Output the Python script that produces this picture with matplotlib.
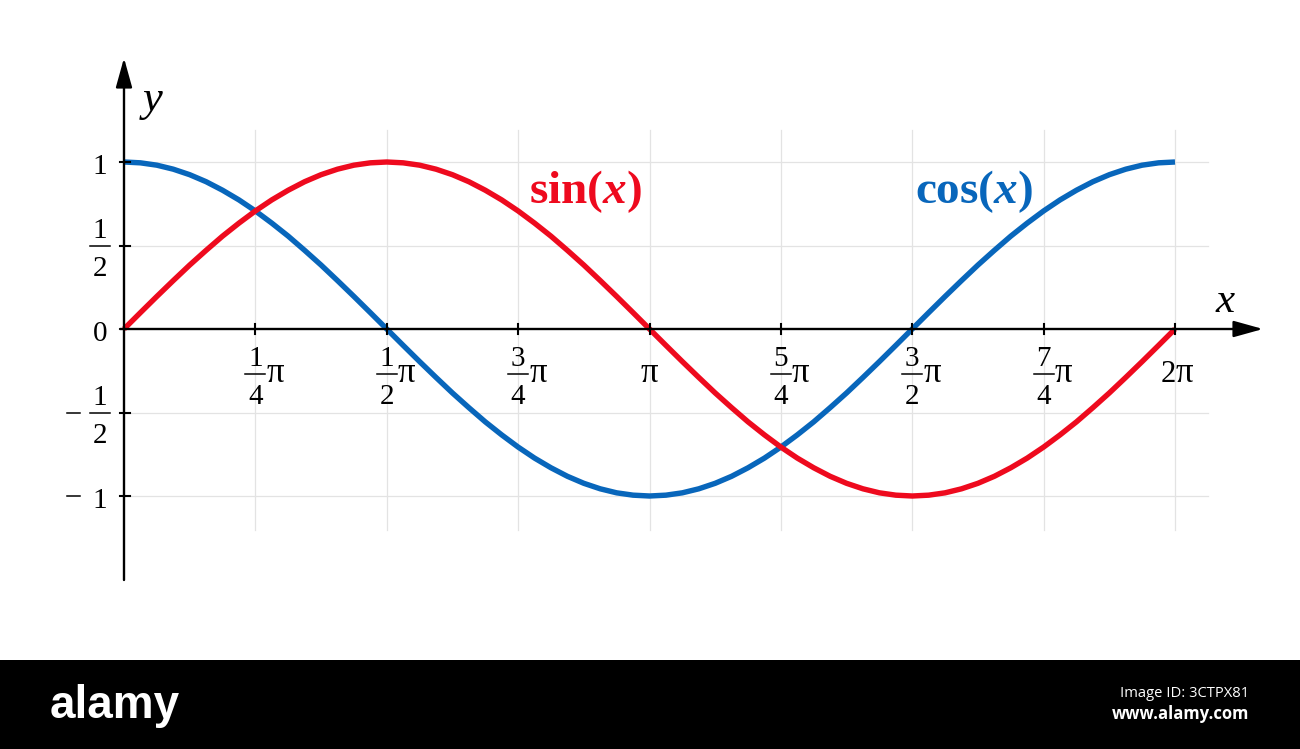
import numpy as np
import matplotlib
matplotlib.use('Agg')
import matplotlib.pyplot as plt
from matplotlib.patches import Rectangle

# ---------------- data ----------------
x_steps_of_pi_over_32 = list(range(65))          # x = k * pi / 32
sin_values = [0.000, 0.098, 0.195, 0.290, 0.383, 0.471, 0.556, 0.634, 0.707,
              0.773, 0.831, 0.882, 0.924, 0.957, 0.981, 0.995, 1.000,
              0.995, 0.981, 0.957, 0.924, 0.882, 0.831, 0.773, 0.707,
              0.634, 0.556, 0.471, 0.383, 0.290, 0.195, 0.098, 0.000,
              -0.098, -0.195, -0.290, -0.383, -0.471, -0.556, -0.634, -0.707,
              -0.773, -0.831, -0.882, -0.924, -0.957, -0.981, -0.995, -1.000,
              -0.995, -0.981, -0.957, -0.924, -0.882, -0.831, -0.773, -0.707,
              -0.634, -0.556, -0.471, -0.383, -0.290, -0.195, -0.098, 0.000]
cos_values = [1.000, 0.995, 0.981, 0.957, 0.924, 0.882, 0.831, 0.773, 0.707,
              0.634, 0.556, 0.471, 0.383, 0.290, 0.195, 0.098, 0.000,
              -0.098, -0.195, -0.290, -0.383, -0.471, -0.556, -0.634, -0.707,
              -0.773, -0.831, -0.882, -0.924, -0.957, -0.981, -0.995, -1.000,
              -0.995, -0.981, -0.957, -0.924, -0.882, -0.831, -0.773, -0.707,
              -0.634, -0.556, -0.471, -0.383, -0.290, -0.195, -0.098, 0.000,
              0.098, 0.195, 0.290, 0.383, 0.471, 0.556, 0.634, 0.707,
              0.773, 0.831, 0.882, 0.924, 0.957, 0.981, 0.995, 1.000]
x_tick_multiples = [0.25, 0.5, 0.75, 1.0, 1.25, 1.5, 1.75, 2.0]   # times pi
x_tick_num = ['1', '1', '3', '', '5', '3', '7', '']
x_tick_den = ['4', '2', '4', '', '4', '2', '4', '']
x_tick_coef = ['', '', '', '', '', '', '', '2']
x_tick_pi = 'π'
y_ticks = [1.0, 0.5, 0.0, -0.5, -1.0]
y_tick_negative = [False, False, False, True, True]
y_tick_num = ['1', '1', '0', '1', '1']
y_tick_den = ['', '2', '', '2', '']
series_names = [r'$\mathbf{sin(}\mathbfit{x}\mathbf{)}$', r'$\mathbf{cos(}\mathbfit{x}\mathbf{)}$']
series_label_x = [2.756, 5.084]
series_label_y = [0.755, 0.755]

RED = '#ee0a1e'
BLUE = '#0866bb'
GRID = '#e3e3e3'

plt.rcParams['font.family'] = ['Liberation Serif', 'DejaVu Serif']
plt.rcParams['mathtext.fontset'] = 'custom'
plt.rcParams['mathtext.rm'] = 'Liberation Serif'
plt.rcParams['mathtext.it'] = 'Liberation Serif:italic'
plt.rcParams['mathtext.bf'] = 'Liberation Serif:bold'
plt.rcParams['mathtext.bfit'] = 'Liberation Serif:italic:bold'

W, H = 1300, 749
fig = plt.figure(figsize=(W / 100, H / 100), dpi=100)
ax = fig.add_axes([0, 0, 1, 1])
X0_PX, X2PI_PX = 124, 1175
Y0_PX, UNIT_PX = 329, 167
SX = 2 * np.pi / (X2PI_PX - X0_PX)
ax.set_xlim(-X0_PX * SX, (W - X0_PX) * SX)
ax.set_ylim(-(H - Y0_PX) / UNIT_PX, Y0_PX / UNIT_PX)
ax.axis('off')


def dx(p):
    return p * SX


def dy(p):  # p pixels downward
    return -p / UNIT_PX


PI = np.pi

# grid
for m in x_tick_multiples:
    ax.plot([m * PI, m * PI], [1 + dy(-32), -1 + dy(34)], color=GRID, lw=0.9, zorder=1)
for yt in y_ticks:
    if yt != 0:
        ax.plot([0, 2 * PI + dx(33)], [yt, yt], color=GRID, lw=0.9, zorder=1)

# axes with arrows
arrow = dict(arrowstyle='-|>,head_length=1.8,head_width=0.5', mutation_scale=10,
             lw=1.7, color='black', shrinkA=0, shrinkB=0)
ax.annotate('', xy=(2 * PI + dx(88), 0), xytext=(dx(-4), 0), arrowprops=arrow, zorder=5)
ax.annotate('', xy=(0, dy(58 - Y0_PX)), xytext=(0, dy(580 - Y0_PX)), arrowprops=arrow, zorder=5)

# tick marks
for m in x_tick_multiples:
    ax.plot([m * PI, m * PI], [dy(-5), dy(5)], color='black', lw=1.5, zorder=5)
for yt in y_ticks:
    if yt != 0:
        ax.plot([dx(-4), dx(6)], [yt, yt], color='black', lw=1.5, zorder=5)

# curves
xs = np.array(x_steps_of_pi_over_32) * PI / 32
ax.plot(xs, cos_values, color=BLUE, lw=3.9, solid_capstyle='butt',
        solid_joinstyle='round', zorder=3)
ax.plot(xs, sin_values, color=RED, lw=3.9, solid_capstyle='butt',
        solid_joinstyle='round', zorder=4)

# x tick labels
DIG = 21
PIS = 25
PI_BASE = 382 - Y0_PX
for m, n, d, c in zip(x_tick_multiples, x_tick_num, x_tick_den, x_tick_coef):
    xt = m * PI
    if n:
        bar = 374 - Y0_PX
        ax.text(xt, dy(bar - 8), n, ha='center', va='baseline', fontsize=DIG)
        ax.plot([xt - dx(10), xt + dx(10)], [dy(bar), dy(bar)], color='black', lw=1.1)
        ax.text(xt, dy(bar + 30), d, ha='center', va='baseline', fontsize=DIG)
        ax.text(xt + dx(11), dy(PI_BASE), x_tick_pi, ha='left', va='baseline', fontsize=PIS)
    elif c:
        ax.text(xt + dx(1), dy(PI_BASE), c, ha='right', va='baseline', fontsize=22)
        ax.text(xt + dx(1), dy(PI_BASE), x_tick_pi, ha='left', va='baseline', fontsize=PIS)
    else:
        ax.text(xt, dy(PI_BASE), x_tick_pi, ha='center', va='baseline', fontsize=PIS)

# y tick labels
for yt, neg, n, d in zip(y_ticks, y_tick_negative, y_tick_num, y_tick_den):
    cx = dx(100 - X0_PX)
    if d:
        ax.text(cx, yt + dy(-8), n, ha='center', va='baseline', fontsize=DIG)
        ax.plot([cx - dx(10), cx + dx(10)], [yt, yt], color='black', lw=1.1)
        ax.text(cx, yt + dy(30), d, ha='center', va='baseline', fontsize=DIG)
    else:
        ax.text(cx, yt + dy(12), n, ha='center', va='baseline', fontsize=DIG)
    if neg:
        # minus sign
        ax.plot([dx(67 - X0_PX), dx(80 - X0_PX)], [yt, yt], color='black', lw=1.1)

# axis names
ax.text(dx(153 - X0_PX), dy(100 - Y0_PX), 'y', style='italic', fontsize=32,
        ha='center', va='center')
ax.text(dx(1225 - X0_PX), dy(302 - Y0_PX), 'x', style='italic', fontsize=31,
        ha='center', va='center')

# series labels
for name, lx, ly, c in zip(series_names, series_label_x, series_label_y, [RED, BLUE]):
    ax.text(lx, ly, name, color=c, fontsize=34, ha='center', va='baseline', zorder=6)

# bottom banner
fig.add_artist(Rectangle((0, 0), 1, 89 / H, transform=fig.transFigure,
                         facecolor='black', edgecolor='none', zorder=0))
fig.text(50 / W, (H - 718) / H, 'alamy', color='white', fontsize=33, fontweight='bold',
         family=['Liberation Sans', 'DejaVu Sans'], ha='left', va='baseline')
fig.text(1249 / W, (H - 697) / H, 'Image ID: 3CTPX81', color='white', fontsize=10.6,
         family=['Open Sans', 'DejaVu Sans'], ha='right', va='baseline')
fig.text(1249 / W, (H - 719) / H, 'www.alamy.com', color='white', fontsize=12,
         fontweight='bold', family=['Open Sans', 'DejaVu Sans'], ha='right', va='baseline')

fig.savefig('out.png', dpi=100, facecolor='white')
